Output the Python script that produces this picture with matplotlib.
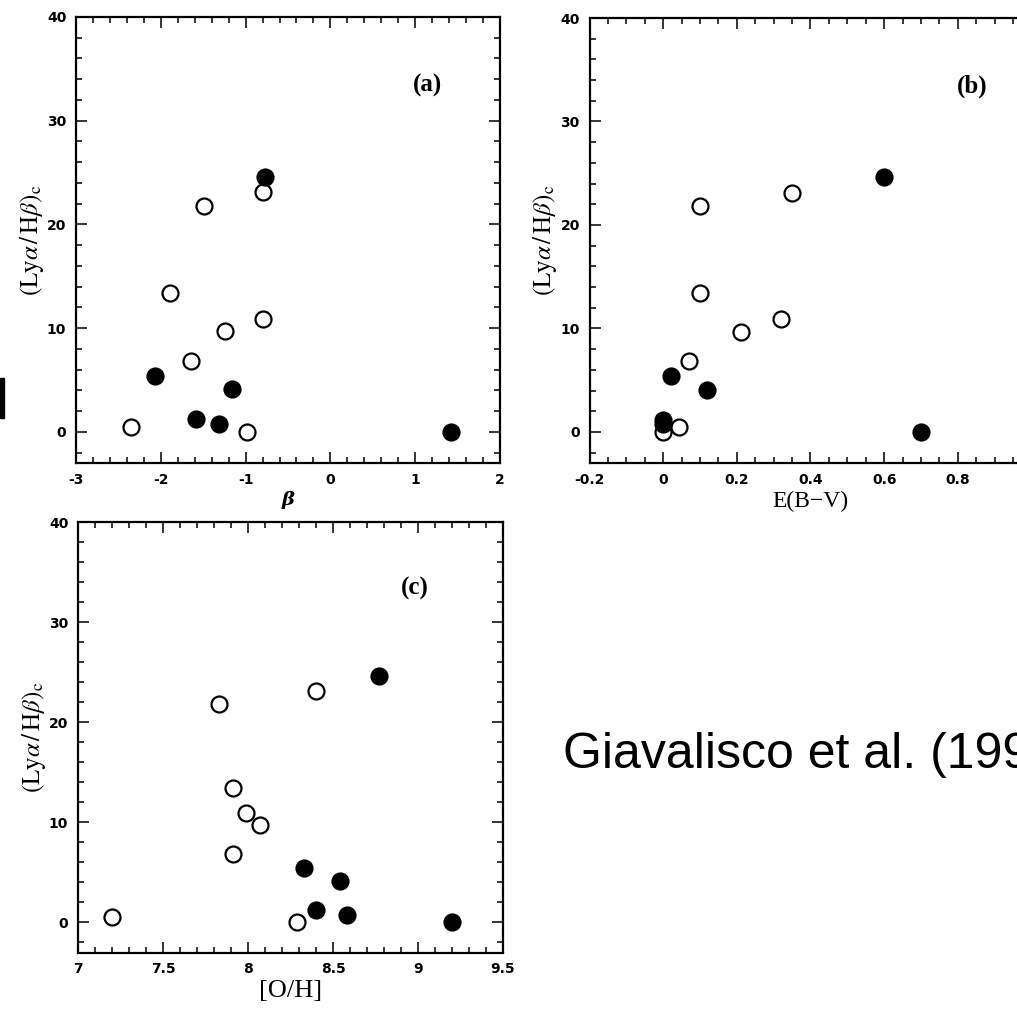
import numpy as np
import matplotlib
matplotlib.use("Agg")
import matplotlib.pyplot as plt
from matplotlib.ticker import MultipleLocator, FuncFormatter
from matplotlib.font_manager import FontProperties
from matplotlib.patches import Rectangle

plt.rcParams['mathtext.fontset'] = 'stix'
plt.rcParams['axes.unicode_minus'] = False

# Ly-alpha / H-beta ratio, open and filled circles
ratio_open = [23.1, 21.8, 13.4, 10.9, 9.7, 6.85, 0.5, 0.0]
ratio_filled = [24.6, 5.4, 4.1, 1.2, 0.75, 0.0]

# (a) UV slope beta
beta_open = [-0.79, -1.49, -1.89, -0.79, -1.24, -1.64, -2.35, -0.98]
beta_filled = [-0.77, -2.07, -1.16, -1.58, -1.31, 1.42]

# (b) E(B-V)
ebv_open = [0.35, 0.10, 0.10, 0.32, 0.21, 0.07, 0.043, 0.0]
ebv_filled = [0.60, 0.02, 0.12, 0.0, 0.0, 0.70]

# (c) oxygen abundance
oh_open = [8.40, 7.83, 7.91, 7.99, 8.07, 7.91, 7.20, 8.29]
oh_filled = [8.77, 8.33, 8.54, 8.40, 8.58, 9.20]

W, H = 1017, 1018
fig = plt.figure(figsize=(W / 100, H / 100), dpi=100)


def box(left, top, right, bottom):
    return [left / W, 1 - bottom / H, (right - left) / W, (bottom - top) / H]


ylab = r'$(\mathrm{Ly}\alpha\,/\,\mathrm{H}\beta)_\mathrm{c}$'
tickfont = FontProperties(family='DejaVu Sans', weight='bold', size=10)


def fmt(v, pos, hide_above=None):
    if hide_above is not None and v > hide_above:
        return ''
    if abs(v) < 1e-9:
        return '0'
    return '%g' % round(v, 3)


def panel(rect, xo, xf, xlim, xmaj, xmin, xlabel, tag, tagx, xlab_kw, hide_above=None):
    ax = fig.add_axes(rect)
    ax.plot(xo, ratio_open, 'o', ms=11.5, mfc='white', mec='black', mew=1.6)
    ax.plot(xf, ratio_filled, 'o', ms=11.5, mfc='black', mec='black', mew=1.6)
    ax.set_xlim(*xlim)
    ax.set_ylim(-3, 40)
    ax.xaxis.set_major_locator(MultipleLocator(xmaj))
    ax.xaxis.set_minor_locator(MultipleLocator(xmin))
    ax.yaxis.set_major_locator(MultipleLocator(10))
    ax.yaxis.set_minor_locator(MultipleLocator(2))
    ax.xaxis.set_major_formatter(FuncFormatter(lambda v, p: fmt(v, p, hide_above)))
    ax.yaxis.set_major_formatter(FuncFormatter(lambda v, p: fmt(v, p)))
    ax.tick_params(which='both', direction='in', top=True, right=True, width=1.1)
    ax.tick_params(which='major', length=8, pad=7)
    ax.tick_params(which='minor', length=4)
    for s in ax.spines.values():
        s.set_linewidth(1.6)
    for lab in ax.get_xticklabels() + ax.get_yticklabels():
        lab.set_fontproperties(tickfont)
    ax.set_ylabel(ylab, fontsize=18, labelpad=1)
    ax.set_xlabel(xlabel, labelpad=3, **xlab_kw)
    ax.text(tagx, 33.4, tag, ha='center', va='center', fontsize=18,
            family='Liberation Serif', weight='bold')
    return ax


panel(box(76, 17, 500, 463), beta_open, beta_filled, (-3, 2), 1, 0.2,
      'β', '(a)', 1.15,
      dict(fontsize=14, family='DejaVu Serif', style='italic', weight='bold'))
panel(box(589.5, 18, 1031.5, 463), ebv_open, ebv_filled, (-0.2, 1.0), 0.2, 0.05,
      'E(B\u2212V)', '(b)', 0.84, dict(fontsize=17, family='Liberation Serif'),
      hide_above=0.9)
panel(box(78, 522, 503, 952.5), oh_open, oh_filled, (7, 9.5), 0.5, 0.1,
      '[O/H]', '(c)', 8.98, dict(fontsize=19, family='Liberation Serif'))

fig.text(563 / W, 1 - 768 / H, 'Giavalisco et al. (1996)', fontsize=36,
         family='Liberation Sans', va='baseline', ha='left')
fig.add_artist(Rectangle((0, 1 - 418 / H), 4 / W, 40 / H,
                         transform=fig.transFigure, color='black'))

fig.savefig('out.png', dpi=100)
